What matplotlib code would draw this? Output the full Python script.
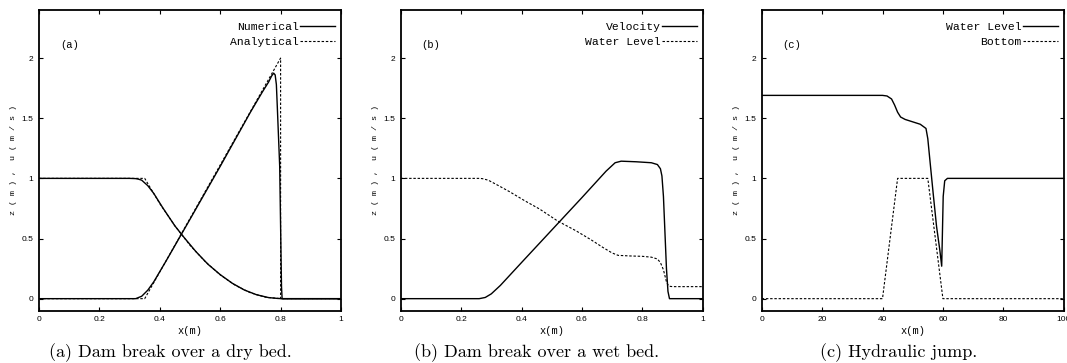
import matplotlib

matplotlib.use("Agg")
import matplotlib.pyplot as plt

# ---- data ----
# (a) dam break over a dry bed
a_x_num_h = [0, 0.30, 0.32, 0.33, 0.34, 0.36, 0.38, 0.41, 0.45, 0.48, 0.52, 0.56,
             0.60, 0.64, 0.68, 0.72, 0.76, 0.79, 0.81, 1.0]
a_num_h = [1, 1, 0.998, 0.993, 0.985, 0.94, 0.875, 0.755, 0.605, 0.51, 0.39, 0.285,
           0.20, 0.128, 0.072, 0.033, 0.009, 0.002, 0, 0]
a_x_num_u = [0, 0.32, 0.34, 0.36, 0.38, 0.42, 0.50, 0.60, 0.70, 0.74, 0.76, 0.77,
             0.777, 0.782, 0.786, 0.789, 0.793, 0.797, 0.800, 0.803, 0.805, 1.0]
a_num_u = [0, 0, 0.02, 0.07, 0.14, 0.31, 0.66, 1.10, 1.55, 1.72, 1.80, 1.85,
           1.875, 1.86, 1.78, 1.60, 1.35, 1.10, 0.60, 0.10, 0, 0]
a_x_ana_h = [0, 0.35, 0.40, 0.45, 0.50, 0.55, 0.60, 0.65, 0.70, 0.75, 0.80, 1.0]
a_ana_h = [1, 1, 0.79, 0.605, 0.444, 0.309, 0.198, 0.111, 0.049, 0.012, 0, 0]
a_x_ana_u = [0, 0.35, 0.80, 0.80, 1.0]
a_ana_u = [0, 0, 2.0, 0, 0]

# (b) dam break over a wet bed
b_x_u = [0, 0.26, 0.28, 0.30, 0.33, 0.40, 0.50, 0.60, 0.68, 0.71, 0.73, 0.78, 0.83,
         0.85, 0.86, 0.865, 0.87, 0.875, 0.88, 0.885, 0.89, 1.0]
b_u = [0, 0, 0.01, 0.04, 0.11, 0.30, 0.57, 0.84, 1.06, 1.13, 1.143, 1.138, 1.13,
       1.115, 1.08, 1.02, 0.85, 0.55, 0.25, 0.06, 0, 0]
b_x_h = [0, 0.26, 0.27, 0.29, 0.32, 0.36, 0.41, 0.46, 0.52, 0.58, 0.63, 0.67, 0.70,
         0.72, 0.76, 0.80, 0.83, 0.85, 0.86, 0.87, 0.875, 0.88, 0.885, 0.89, 0.90, 1.0]
b_h = [1, 1, 0.998, 0.985, 0.945, 0.89, 0.815, 0.745, 0.645, 0.565, 0.49, 0.425, 0.38,
       0.36, 0.355, 0.352, 0.345, 0.33, 0.30, 0.24, 0.19, 0.14, 0.115, 0.103, 0.1, 0.1]

# (c) hydraulic jump
c_x_h = [0, 40, 41.5, 43, 44, 45, 46, 47.5, 50, 52.5, 54.4, 55.0, 55.7, 56.8, 57.9,
         59.0, 59.6, 59.8, 60.1, 60.6, 61.5, 100]
c_h = [1.69, 1.69, 1.685, 1.66, 1.61, 1.55, 1.51, 1.49, 1.47, 1.45, 1.415, 1.33, 1.15,
       0.87, 0.60, 0.40, 0.27, 0.50, 0.85, 0.98, 1.0, 1.0]
c_x_bot = [0, 40, 45, 55, 60, 100]
c_bot = [0, 0, 1, 1, 0, 0]

y_ticks = [0, 0.5, 1, 1.5, 2]
y_labels = ["0", "0.5", "1", "1.5", "2"]
x_ticks_unit = [0, 0.2, 0.4, 0.6, 0.8, 1]
x_labels_unit = ["0", "0.2", "0.4", "0.6", "0.8", "1"]
x_ticks_c = [0, 20, 40, 60, 80, 100]
x_labels_c = ["0", "20", "40", "60", "80", "100"]

captions = ["(a) Dam break over a dry bed.", "(b) Dam break over a wet bed.",
            "(c) Hydraulic jump."]
panel_tags = ["(a)", "(b)", "(c)"]

MONO = "Liberation Mono"
DASH = (0, (2.2, 1.6))

fig = plt.figure(figsize=(10.67, 3.63), dpi=100)
lefts = [39 / 1067, 400.7 / 1067, 761.7 / 1067]
axes = [fig.add_axes([l, 0.1441, 302 / 1067, 0.8284]) for l in lefts]

for ax in axes:
    for s in ax.spines.values():
        s.set_linewidth(1.3)
    ax.tick_params(direction="in", length=3, width=0.8, top=True, right=True,
                   labelsize=6, pad=4)
    ax.set_ylim(-0.1, 2.4)
    ax.set_yticks(y_ticks)
    ax.set_yticklabels(y_labels, family="Liberation Sans")
    ax.set_xlabel("x(m)", family=MONO, fontsize=7.5, labelpad=2)
    ax.set_ylabel("z ( m ) ,  u ( m / s )", family=MONO, fontsize=6, labelpad=3)

ax = axes[0]
ax.plot(a_x_num_u, a_num_u, color="black", lw=1.0, label="Numerical")
ax.plot(a_x_ana_u, a_ana_u, color="black", lw=0.8, ls=DASH, label="Analytical")
ax.plot(a_x_num_h, a_num_h, color="black", lw=1.0)
ax.plot(a_x_ana_h, a_ana_h, color="black", lw=0.8, ls=DASH)

ax = axes[1]
ax.plot(b_x_u, b_u, color="black", lw=1.0, label="Velocity")
ax.plot(b_x_h, b_h, color="black", lw=0.8, ls=DASH, label="Water Level")

ax = axes[2]
ax.plot(c_x_h, c_h, color="black", lw=1.0, label="Water Level")
ax.plot(c_x_bot, c_bot, color="black", lw=0.8, ls=DASH, label="Bottom")

for i, ax in enumerate(axes):
    if i < 2:
        ax.set_xlim(0, 1)
        ax.set_xticks(x_ticks_unit)
        ax.set_xticklabels(x_labels_unit, family="Liberation Sans")
    else:
        ax.set_xlim(0, 100)
        ax.set_xticks(x_ticks_c)
        ax.set_xticklabels(x_labels_c, family="Liberation Sans")
    ax.text(0.10, 0.884, panel_tags[i], transform=ax.transAxes, family=MONO,
            fontsize=7.6, ha="center", va="center")
    ax.legend(loc="upper right", bbox_to_anchor=(1.0, 0.98), frameon=False,
              markerfirst=False, prop={"family": MONO, "size": 8.2},
              handlelength=3.1, handletextpad=0.1, labelspacing=0.45,
              borderaxespad=0.2, borderpad=0.3)

caption_x = [170 / 1067, 536.5 / 1067, 899 / 1067]
for cx, cap in zip(caption_x, captions):
    fig.text(cx, 0.028, cap, family="cmr10", fontsize=13, ha="center", va="center")

fig.savefig("out.png", dpi=100)
plt.close(fig)
